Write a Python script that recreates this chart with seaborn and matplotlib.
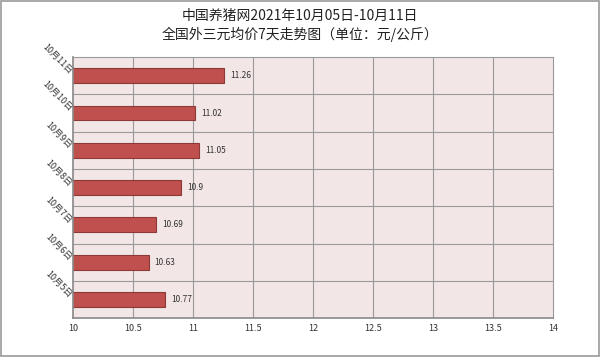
import matplotlib
matplotlib.use("Agg")
import matplotlib.pyplot as plt
import seaborn as sns
import pandas as pd
import numpy as np

# dados
datas = ["10月11日", "10月10日", "10月9日", "10月8日", "10月7日", "10月6日", "10月5日"]
precos = [11.26, 11.02, 11.05, 10.9, 10.69, 10.63, 10.77]
x_ticks = [10, 10.5, 11, 11.5, 12, 12.5, 13, 13.5, 14]
x_tick_labels = ["10", "10.5", "11", "11.5", "12", "12.5", "13", "13.5", "14"]

df = pd.DataFrame({"data": datas, "preco": precos})

sns.set_style("white")
plt.rcParams["font.family"] = ["Noto Sans CJK SC", "DejaVu Sans"]

fig = plt.figure(figsize=(6, 3.57), dpi=100)
ax = fig.add_axes([0.1217, 0.109, 0.8, 0.731])

sns.barplot(data=df, y="data", x="preco", orient="h", ax=ax,
            color="#c0504d", edgecolor="#8c3a38", linewidth=0.8,
            width=0.4, saturation=1)

ax.set_facecolor("#f2e6e6")
ax.set_xlim(10, 14)
ax.set_xticks(x_ticks)
ax.set_xticklabels(x_tick_labels, fontsize=6.5, color="#333333")
ax.set_ylim(len(datas) - 0.5, -0.5)

# linhas de grade
for xv in x_ticks[1:-1]:
    ax.axvline(xv, color="#9a9a9a", linewidth=0.8, zorder=0)
for yv in np.arange(0.5, len(datas) - 0.5, 1):
    ax.axhline(yv, color="#9a9a9a", linewidth=0.8, zorder=0)
ax.set_axisbelow(True)

for sp in ["top", "right"]:
    ax.spines[sp].set_color("#9a9a9a")
    ax.spines[sp].set_linewidth(0.8)
for sp in ["left", "bottom"]:
    ax.spines[sp].set_color("#888888")
    ax.spines[sp].set_linewidth(1.2)

ax.set_yticks(range(len(datas)))
ax.set_yticklabels(datas, rotation=-45, fontsize=6.5, color="#333333",
                   ha="right", va="bottom", rotation_mode="anchor")
ax.tick_params(axis="both", length=0, pad=4)
ax.set_xlabel("")
ax.set_ylabel("")

for i, v in enumerate(precos):
    ax.text(v + 0.05, i, f"{v:g}", va="center", ha="left", fontsize=6, color="#333333")

fig.text(0.5, 0.955, "中国养猪网2021年10月05日-10月11日", ha="center", va="center",
         fontsize=10, color="#222222")
fig.text(0.5, 0.905, "全国外三元均价7天走势图（单位：元/公斤）", ha="center", va="center",
         fontsize=10, color="#222222")

# borda da figura
fig.patches.append(plt.Rectangle((0.001, 0.002), 0.997, 0.995, transform=fig.transFigure,
                                 fill=False, edgecolor="#999999", linewidth=1.2))

fig.savefig("out.png", dpi=100)
